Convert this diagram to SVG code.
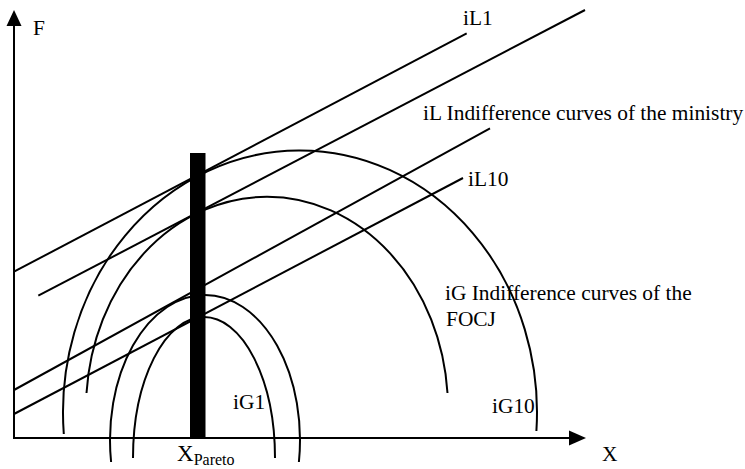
<svg xmlns="http://www.w3.org/2000/svg" width="745" height="469" viewBox="0 0 745 469">
<defs>
<style>
.ln{fill:none;stroke:#000;stroke-width:2}
.t{font-family:"Liberation Serif","Times New Roman",serif;font-size:21.4px;fill:#000}
</style>
</defs>
<rect width="745" height="469" fill="#fff"/>
<g id="axes">
<line class="ln" x1="14" y1="26" x2="14" y2="438"/>
<polygon points="14,10 6.5,26 21.5,26" fill="#000"/>
<line class="ln" x1="13" y1="438" x2="570" y2="438"/>
<polygon points="586,438 569,430.5 569,445.5" fill="#000"/>
<text class="t" x="33" y="35">F</text>
<text class="t" x="602" y="461">X</text>
</g>
<g id="connectors">
<line class="ln" x1="14" y1="271.7" x2="466.7" y2="33.3"/>
<line class="ln" x1="38.3" y1="295.7" x2="585" y2="10"/>
<line class="ln" x1="14" y1="390" x2="490" y2="128.3"/>
<line class="ln" x1="14" y1="414" x2="463" y2="178"/>
</g>
<g id="iG-curves">
<path class="ln" d="M63.8 434 A237 262 0 1 1 536.4 431"/>
<path class="ln" d="M86.5 393 A181 212 0 0 1 447.5 393"/>
<path class="ln" d="M111.1 462 A95 145 0 1 1 298.9 462"/>
<path class="ln" d="M133 458 A71 141 0 0 1 275 458"/>
</g>
<g id="pareto-bar">
<rect x="190" y="153" width="15.5" height="285" fill="#000"/>
<text class="t" x="177" y="461" style="font-size:23px">X<tspan style="font-size:16px" dy="4">Pareto</tspan></text>
</g>
<g id="labels">
<text class="t" x="463" y="25">iL1</text>
<text class="t" x="423" y="120">iL Indifference curves of the ministry</text>
<text class="t" x="468" y="186">iL10</text>
<text class="t" x="445" y="300">iG Indifference curves of the</text>
<text class="t" x="446" y="326">FOCJ</text>
<text class="t" x="233" y="409">iG1</text>
<text class="t" x="492" y="413">iG10</text>
</g>
</svg>
